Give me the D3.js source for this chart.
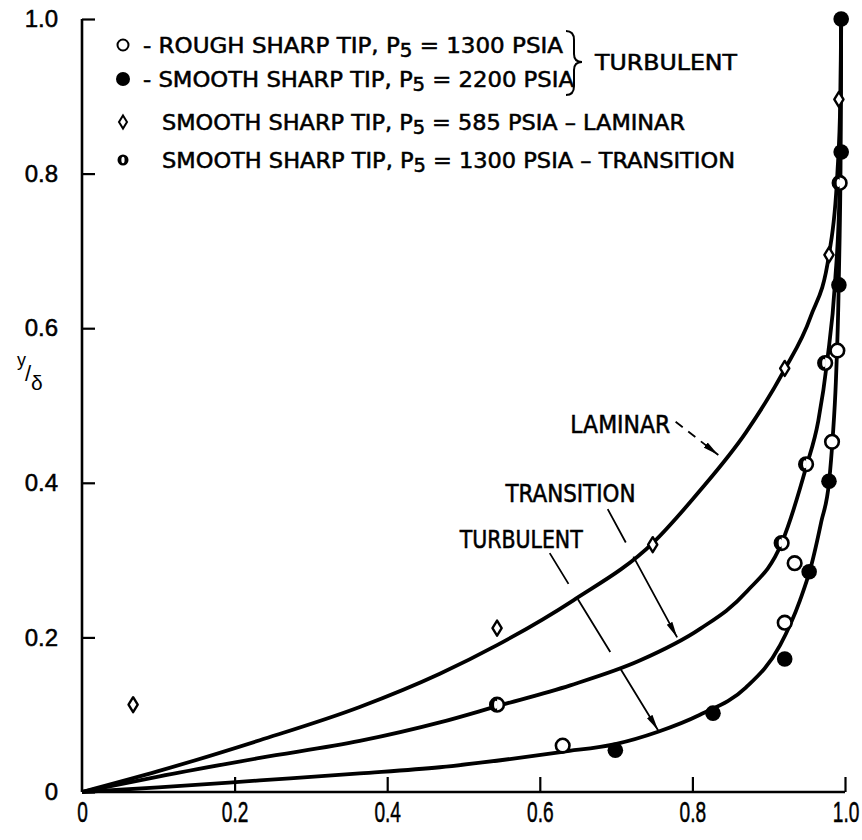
<!DOCTYPE html>
<html><head><meta charset="utf-8">
<script src="https://cdn.jsdelivr.net/npm/d3@7"></script>
<style>body{margin:0;background:#fff}svg{display:block}</style>
</head><body>
<svg id="chart" width="862" height="840"></svg>
<script>
// ---- data ----
const xTicks = [0, 0.2, 0.4, 0.6, 0.8, 1.0];
const yTicks = [0, 0.2, 0.4, 0.6, 0.8, 1.0];
const xTickLabels = ["0", "0.2", "0.4", "0.6", "0.8", "1.0"];
const yTickLabels = ["0", "0.2", "0.4", "0.6", "0.8", "1.0"];

// rough sharp tip, P5 = 1300 psia (turbulent) - open circles
const roughX = [0.630, 0.921, 0.934, 0.983, 0.990];
const roughY = [0.060, 0.219, 0.296, 0.453, 0.571];
// smooth sharp tip, P5 = 2200 psia (turbulent) - filled circles
const smoothX = [0.699, 0.827, 0.921, 0.953, 0.979, 0.992, 0.995, 0.995];
const smoothY = [0.054, 0.102, 0.172, 0.285, 0.402, 0.656, 0.828, 1.000];
// smooth sharp tip, P5 = 585 psia (laminar) - diamonds
const laminarX = [0.067, 0.544, 0.748, 0.921, 0.979, 0.992];
const laminarY = [0.113, 0.212, 0.320, 0.548, 0.695, 0.896];
// smooth sharp tip, P5 = 1300 psia (transition) - half filled circles
const transX = [0.544, 0.917, 0.949, 0.974, 0.993];
const transY = [0.113, 0.322, 0.424, 0.555, 0.788];

// faired curves
const lamCurveX = [0, 0.1, 0.233, 0.364, 0.469, 0.544, 0.644, 0.748, 0.81, 0.87, 0.92, 0.955, 0.979, 0.990, 0.994, 0.995];
const lamCurveY = [0, 0.027, 0.067, 0.110, 0.153, 0.190, 0.248, 0.322, 0.390, 0.465, 0.545, 0.615, 0.695, 0.800, 0.900, 1.000];
const traCurveX = [0, 0.1, 0.233, 0.364, 0.469, 0.544, 0.64, 0.731, 0.81, 0.87, 0.917, 0.949, 0.965, 0.977, 0.987, 0.9930, 0.9943, 0.995];
const traCurveY = [0, 0.020, 0.044, 0.066, 0.090, 0.111, 0.138, 0.170, 0.211, 0.258, 0.322, 0.420, 0.480, 0.560, 0.660, 0.780, 0.900, 1.000];
const turCurveX = [0, 0.1, 0.233, 0.364, 0.469, 0.563, 0.63, 0.699, 0.755, 0.81, 0.87, 0.915, 0.941, 0.955, 0.969, 0.979, 0.984, 0.988, 0.991, 0.9930, 0.9943, 0.995];
const turCurveY = [0, 0.006, 0.015, 0.024, 0.032, 0.043, 0.052, 0.062, 0.078, 0.100, 0.135, 0.190, 0.248, 0.290, 0.350, 0.400, 0.460, 0.530, 0.620, 0.720, 0.830, 1.000];

// legend
const legendPre  = ["- ROUGH SHARP TIP, P", "- SMOOTH SHARP TIP, P", "SMOOTH SHARP TIP, P", "SMOOTH SHARP TIP, P"];
const legendSub  = ["5", "5", "5", "5"];
const legendPost = [" = 1300 PSIA", " = 2200 PSIA", " = 585 PSIA \u2013 LAMINAR", " = 1300 PSIA \u2013 TRANSITION"];
const legendKind = ["open", "filled", "diamond", "half"];
const groupLabel = "TURBULENT";

// curve annotations (data coordinates)
const annoText = ["LAMINAR", "TRANSITION", "TURBULENT"];
const annoTextX = [0.640, 0.555, 0.495];
const annoTextY = [0.464, 0.375, 0.316];
const annoFromX = [0.778, 0.689, 0.613];
const annoFromY = [0.479, 0.366, 0.309];
const annoToX = [0.834, 0.780, 0.755];
const annoToY = [0.436, 0.200, 0.080];

// ---- layout ----
const svg = d3.select("#chart");
const x = d3.scaleLinear().domain([0, 1]).range([82, 845]);
const y = d3.scaleLinear().domain([0, 1]).range([792, 19]);
const FONT = "'Liberation Sans Narrow','DejaVu Sans Condensed','Arial Narrow',sans-serif";

svg.append("defs").append("marker")
  .attr("id", "arr").attr("viewBox", "0 0 16 8").attr("refX", 16).attr("refY", 4)
  .attr("markerWidth", 16).attr("markerHeight", 8).attr("markerUnits", "userSpaceOnUse")
  .attr("orient", "auto")
  .append("path").attr("d", "M0,0.8 L16,4 L0,7.2 Z").attr("fill", "#000");

// axes
const yAxis = d3.axisLeft(y).tickValues(yTicks).tickSize(-13).tickPadding(24)
  .tickFormat((d, i) => yTickLabels[i]);
const gy = svg.append("g").attr("transform", "translate(82,0)").call(yAxis);
gy.select(".domain").attr("stroke-width", 2.6).attr("d", "M0,792V19");
gy.selectAll(".tick line").attr("stroke-width", 2.2);
gy.selectAll(".tick text").attr("font-family", "'Liberation Sans',Arial,sans-serif")
  .attr("font-size", 24).attr("fill", "#000").attr("stroke", "#000").attr("stroke-width", 0.5);

const xAxis = d3.axisBottom(x).tickValues(xTicks).tickSize(-15).tickPadding(9)
  .tickFormat((d, i) => xTickLabels[i]);
const gx = svg.append("g").attr("transform", "translate(0,792)").call(xAxis);
gx.select(".domain").attr("stroke-width", 2.6).attr("d", "M82,0H845");
gx.selectAll(".tick line").attr("stroke-width", 2.2);
gx.selectAll(".tick").filter(d => d === 0).select("line").remove();
gx.selectAll(".tick text")
  .attr("font-family", "'Liberation Sans',Arial,sans-serif").attr("font-size", 29).attr("fill", "#000")
  .attr("stroke", "#000").attr("stroke-width", 0.5)
  .attr("transform", "scale(0.66,1)");
gx.selectAll(".tick").filter(d => d === 1).select("text").attr("text-anchor", "end").attr("x", 21);

// y axis label  y/δ
const yl = svg.append("g").attr("font-family", "'Liberation Sans',Arial,sans-serif").attr("fill", "#000");
yl.append("text").attr("x", 17).attr("y", 366).attr("font-size", 18).text("y");
yl.append("text").attr("x", 25).attr("y", 381).attr("font-size", 22).text("/");
yl.append("text").attr("x", 31).attr("y", 390).attr("font-size", 21).text("\u03b4");

// curves
const line = d3.line().x(d => x(d[0])).y(d => y(d[1])).curve(d3.curveMonotoneX);
const curves = [[lamCurveX, lamCurveY], [traCurveX, traCurveY], [turCurveX, turCurveY]];
svg.append("g").selectAll("path").data(curves).join("path")
  .attr("d", c => line(c[0].map((v, i) => [v, c[1][i]])))
  .attr("fill", "none").attr("stroke", "#000").attr("stroke-width", 3.8)
  .attr("stroke-linejoin", "round");

// markers
function drawMarker(g, kind) {
  if (kind === "open") {
    g.append("circle").attr("r", 6.8).attr("fill", "#fff").attr("stroke", "#000").attr("stroke-width", 2.6);
  } else if (kind === "filled") {
    g.append("circle").attr("r", 7.8).attr("fill", "#000");
  } else if (kind === "diamond") {
    g.append("path").attr("d", "M0,-7.5 L4.6,0 L0,7.5 L-4.6,0 Z")
      .attr("fill", "#fff").attr("stroke", "#000").attr("stroke-width", 2.4).attr("stroke-linejoin", "round");
  } else if (kind === "half") {
    g.append("circle").attr("r", 6.8).attr("fill", "#fff").attr("stroke", "#000").attr("stroke-width", 2.6);
    g.append("path").attr("d", "M0,-6.8 A6.8,6.8 0 0 0 0,6.8 Z").attr("fill", "#000");
    g.append("ellipse").attr("rx", 1.8).attr("ry", 4).attr("cx", -1.2).attr("fill", "#fff");
  }
}
const series = [[laminarX, laminarY, "diamond"], [transX, transY, "half"], [roughX, roughY, "open"], [smoothX, smoothY, "filled"]];
series.forEach(([xs, ys, kind]) => {
  svg.append("g").selectAll("g").data(xs.map((v, i) => [v, ys[i]])).join("g")
    .attr("transform", d => `translate(${x(d[0])},${y(d[1])})`)
    .each(function () { drawMarker(d3.select(this), kind); });
});

// annotations
const ag = svg.append("g");
annoText.forEach((t, i) => {
  ag.append("text").attr("x", x(annoTextX[i])).attr("y", y(annoTextY[i]))
    .attr("font-family", FONT).attr("font-size", 24).attr("fill", "#000")
    .attr("stroke", "#000").attr("stroke-width", 0.5)
    .attr("textLength", [100, 130, 123][i]).attr("lengthAdjust", "spacingAndGlyphs").text(t);
  ag.append("line").attr("x1", x(annoFromX[i])).attr("y1", y(annoFromY[i]))
    .attr("x2", x(annoToX[i])).attr("y2", y(annoToY[i]))
    .attr("stroke", "#000").attr("stroke-width", 1.8)
    .attr("stroke-dasharray", i === 0 ? "9,7" : (i === 1 ? "38,16,200" : "36,18,62,18,200"))
    .attr("marker-end", "url(#arr)");
});

// legend
const lg = svg.append("g");
const rowY = [45, 79, 122, 160];
const textStart = [143, 143, 162, 162];
const textLen = [420, 431, 523, 573];
legendPre.forEach((p, i) => {
  const m = lg.append("g").attr("transform", `translate(123,${rowY[i]})`);
  if (legendKind[i] === "open") m.append("circle").attr("r", 5.5).attr("fill", "#fff").attr("stroke", "#000").attr("stroke-width", 2);
  else if (legendKind[i] === "filled") m.append("circle").attr("r", 7).attr("fill", "#000");
  else if (legendKind[i] === "diamond") m.append("path").attr("d", "M0,-6.5 L4,0 L0,6.5 L-4,0 Z").attr("fill", "#fff").attr("stroke", "#000").attr("stroke-width", 2);
  else { m.append("circle").attr("r", 5.5).attr("fill", "#000"); m.append("ellipse").attr("rx", 1.6).attr("ry", 3.2).attr("fill", "#fff"); }
  const t = lg.append("text").attr("x", textStart[i]).attr("y", rowY[i] + 8)
    .attr("font-family", FONT).attr("font-size", 22).attr("fill", "#000")
    .attr("stroke", "#000").attr("stroke-width", 0.5)
    .attr("textLength", textLen[i]).attr("lengthAdjust", "spacingAndGlyphs");
  t.append("tspan").text(p);
  t.append("tspan").attr("dy", 4).attr("font-size", 19).text(legendSub[i]);
  t.append("tspan").attr("dy", -4).text(legendPost[i]);
});
// brace
lg.append("path")
  .attr("d", "M566,31 Q574,31 574,40 L574,54 Q574,62 582,62 Q574,62 574,70 L574,86 Q574,95 566,95")
  .attr("fill", "none").attr("stroke", "#000").attr("stroke-width", 2);
lg.append("text").attr("x", 595).attr("y", 70).attr("font-family", FONT).attr("font-size", 22)
  .attr("fill", "#000").attr("stroke", "#000").attr("stroke-width", 0.5)
  .attr("textLength", 142).attr("lengthAdjust", "spacingAndGlyphs").text(groupLabel);
</script>
</body></html>
